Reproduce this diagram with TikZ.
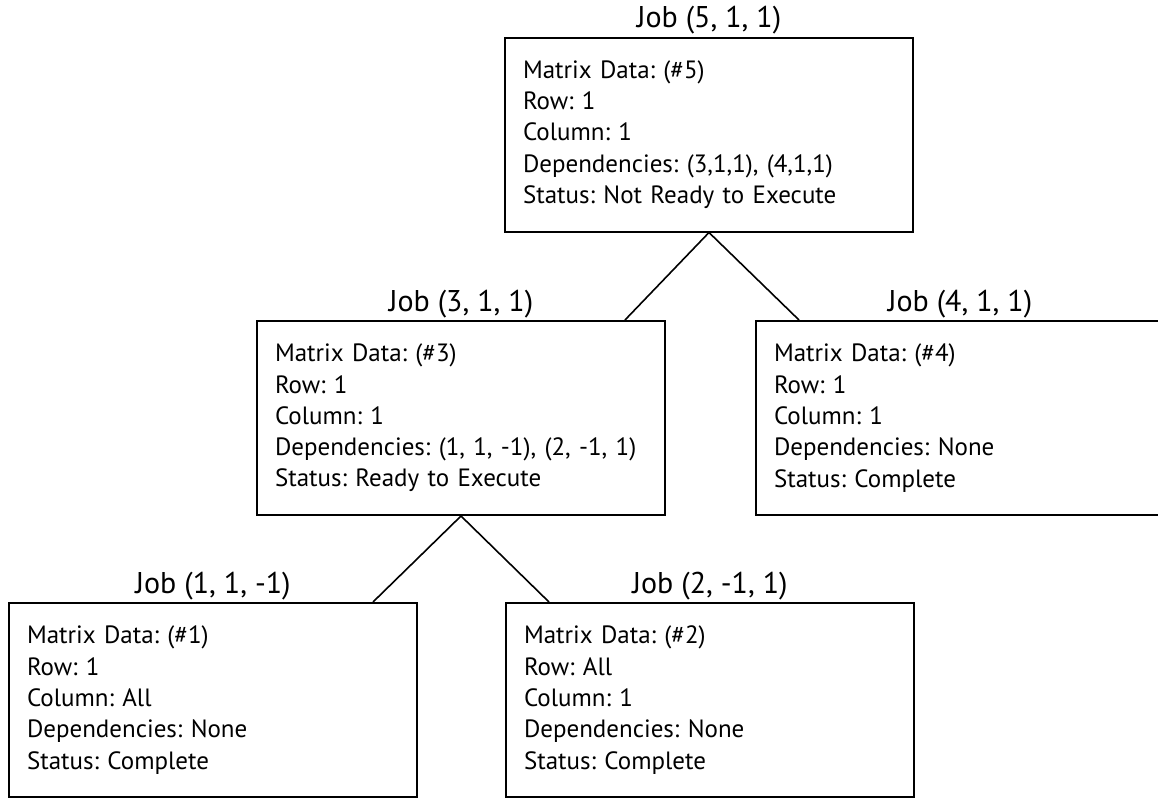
\documentclass[tikz,border=0pt]{standalone}
\usepackage{fontspec}
\setmainfont{PT Sans}
\usetikzlibrary{positioning}

\begin{document}
\frenchspacing
\begin{tikzpicture}[
x=0.5pt,y=-0.5pt,
job/.style={draw,line width=1pt,rectangle,minimum width=204pt,minimum height=97pt,text width=186pt,inner xsep=9pt,inner ysep=0pt,align=left,font=\fontsize{12.5}{15.65}\selectfont},
jobtitle/.style={inner sep=0pt,font=\fontsize{15}{18}\selectfont},
dep/.style={line width=0.8pt}]

\useasboundingbox (0,0) rectangle (1158,798);

\node[job] (j5) at (709,134.5) {Matrix Data: (\#5)\\Row: 1\\Column: 1\\Dependencies: (3,1,1), (4,1,1)\\Status: Not Ready to Execute};
\node[job] (j3) at (461,418) {Matrix Data: (\#3)\\Row: 1\\Column: 1\\Dependencies: (1, 1, -1), (2, -1, 1)\\Status: Ready to Execute};
\node[job] (j4) at (960,418) {Matrix Data: (\#4)\\Row: 1\\Column: 1\\Dependencies: None\\Status: Complete};
\node[job] (j1) at (213,700) {Matrix Data: (\#1)\\Row: 1\\Column: All\\Dependencies: None\\Status: Complete};
\node[job] (j2) at (710,700) {Matrix Data: (\#2)\\Row: All\\Column: 1\\Dependencies: None\\Status: Complete};

\node[jobtitle,above=4.5pt of j5,anchor=base] (t5) {Job (5, 1, 1)};
\node[jobtitle,above=4.5pt of j3,anchor=base] (t3) {Job (3, 1, 1)};
\node[jobtitle,above=4.5pt of j4,anchor=base] (t4) {Job (4, 1, 1)};
\node[jobtitle,above=4.5pt of j1,anchor=base] (t1) {Job (1, 1, -1)};
\node[jobtitle,above=4.5pt of j2,anchor=base] (t2) {Job (2, -1, 1)};

\draw[dep] (j5.south) -- ([xshift=-20.5pt]j3.north east);
\draw[dep] (j5.south) -- ([xshift=22pt]j4.north west);
\draw[dep] (j3.south) -- ([xshift=-22.5pt]j1.north east);
\draw[dep] (j3.south) -- ([xshift=22pt]j2.north west);
\end{tikzpicture}
\end{document}
